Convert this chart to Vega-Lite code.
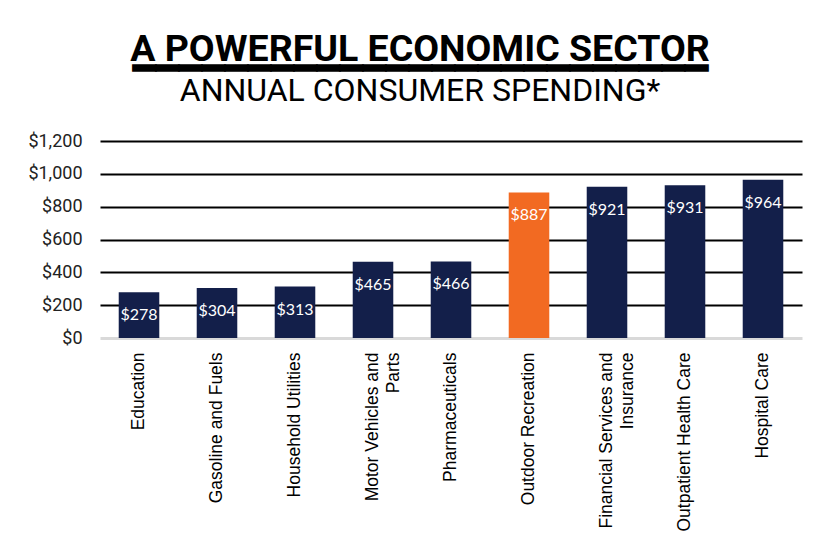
{
  "$schema": "https://vega.github.io/schema/vega-lite/v6.json",
  "width": 702,
  "height": 197,
  "autosize": {"type": "none"},
  "padding": {"left": 100, "top": 141, "right": 23, "bottom": 217},
  "background": "white",
  "title": {
    "text": ["A POWERFUL ECONOMIC SECTOR", "━━━━━━━━━━━━━━━━━━━━━━━━━"],
    "subtitle": "ANNUAL CONSUMER SPENDING*",
    "anchor": "middle",
    "frame": "group",
    "dx": -31,
    "offset": 25,
    "font": "Roboto",
    "fontSize": 37.5,
    "fontWeight": "bold",
    "color": "#000000",
    "lineHeight": 20,
    "subtitleFont": "Roboto",
    "subtitleFontSize": 32,
    "subtitleFontWeight": "normal",
    "subtitleColor": "#000000",
    "subtitlePadding": -12
  },
  "data": {
    "values": [
      {"category": "Education", "spending": 278},
      {"category": "Gasoline and Fuels", "spending": 304},
      {"category": "Household Utilities", "spending": 313},
      {"category": "Motor Vehicles and Parts", "spending": 465},
      {"category": "Pharmaceuticals", "spending": 466},
      {"category": "Outdoor Recreation", "spending": 887},
      {"category": "Financial Services and Insurance", "spending": 921},
      {"category": "Outpatient Health Care", "spending": 931},
      {"category": "Hospital Care", "spending": 964}
    ]
  },
  "encoding": {
    "x": {
      "field": "category",
      "type": "nominal",
      "sort": null,
      "scale": {"paddingInner": 0.48, "paddingOuter": 0.24},
      "axis": {
        "title": null,
        "labelAngle": -90,
        "labelFont": "Liberation Sans",
        "labelFontSize": 17.5,
        "labelColor": "#000000",
        "labelPadding": 14,
        "labelLimit": 300,
        "labelLineHeight": 21,
        "domain": false,
        "ticks": false,
        "labelExpr": "datum.label == 'Motor Vehicles and Parts' ? ['Motor Vehicles and', 'Parts'] : datum.label == 'Financial Services and Insurance' ? ['Financial Services and', 'Insurance'] : datum.label"
      }
    },
    "y": {
      "field": "spending",
      "type": "quantitative",
      "scale": {"domain": [0, 1200]},
      "axis": {
        "title": null,
        "values": [0, 200, 400, 600, 800, 1000, 1200],
        "format": "$,.0f",
        "labelFont": "Roboto",
        "labelFontSize": 18,
        "labelColor": "#222222",
        "labelPadding": 18,
        "domain": false,
        "ticks": false,
        "grid": true,
        "gridColor": {"condition": {"test": "datum.value === 0", "value": "#d9d9d9"}, "value": "#000000"},
        "gridWidth": {"condition": {"test": "datum.value === 0", "value": 3}, "value": 2},
        "gridOpacity": 1
      }
    }
  },
  "layer": [
    {
      "mark": {"type": "bar"},
      "encoding": {
        "color": {
          "condition": {"test": "datum.category === 'Outdoor Recreation'", "value": "#f26a22"},
          "value": "#131f4a"
        }
      }
    },
    {
      "mark": {"type": "text", "baseline": "middle", "dy": 23, "font": "Lato", "fontSize": 16, "color": "#ffffff"},
      "encoding": {
        "text": {"field": "spending", "type": "quantitative", "format": "$,.0f"}
      }
    }
  ],
  "config": {"view": {"stroke": null}}
}
